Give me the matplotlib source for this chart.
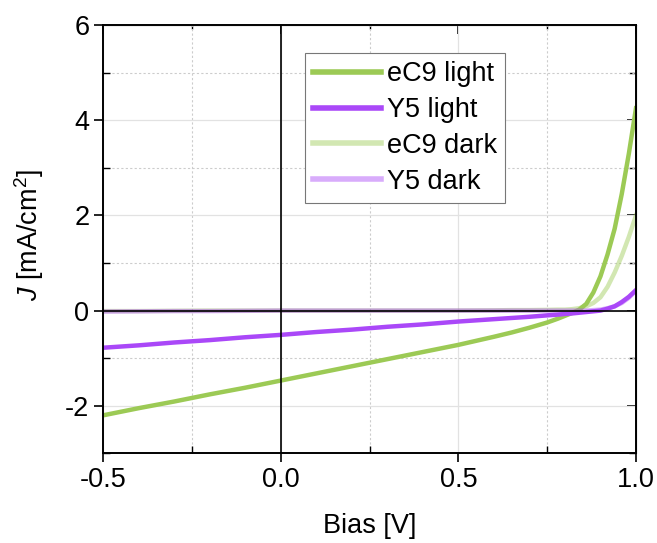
import matplotlib
matplotlib.use("Agg")
import matplotlib.pyplot as plt
from matplotlib.ticker import MultipleLocator, FormatStrFormatter, FuncFormatter

plt.rcParams["font.family"] = ["Liberation Sans", "DejaVu Sans"]
plt.rcParams["mathtext.fontset"] = "custom"
plt.rcParams["mathtext.rm"] = "Liberation Sans"
plt.rcParams["mathtext.it"] = "Liberation Sans:italic"

# bias voltage [V]
bias = [-0.5, -0.4, -0.3, -0.2, -0.1, 0.0, 0.1, 0.2, 0.3, 0.4, 0.5, 0.6, 0.65,
        0.7, 0.75, 0.78, 0.8, 0.82, 0.84, 0.86, 0.88, 0.9, 0.92, 0.94, 0.96,
        0.98, 1.0]

# current density [mA/cm2]
ec9_light = [-2.20, -2.05, -1.91, -1.76, -1.62, -1.47, -1.32, -1.17, -1.02,
             -0.87, -0.72, -0.55, -0.46, -0.36, -0.25, -0.17, -0.11, -0.05,
             0.02, 0.14, 0.38, 0.72, 1.18, 1.72, 2.45, 3.30, 4.25]
y5_light = [-0.78, -0.73, -0.67, -0.62, -0.56, -0.51, -0.45, -0.40, -0.34,
            -0.29, -0.23, -0.18, -0.155, -0.13, -0.10, -0.085, -0.07, -0.06,
            -0.045, -0.03, -0.015, 0.0, 0.04, 0.09, 0.18, 0.29, 0.43]
ec9_dark = [-0.01, -0.01, -0.005, 0.0, 0.0, 0.0, 0.0, 0.0, 0.0, 0.0, 0.0,
            0.005, 0.01, 0.01, 0.015, 0.02, 0.02, 0.03, 0.05, 0.09, 0.16, 0.28,
            0.50, 0.80, 1.15, 1.55, 2.00]
y5_dark = [-0.02, -0.015, -0.01, -0.01, -0.005, 0.0, 0.0, 0.0, 0.0, 0.0, 0.0,
           0.0, 0.0, 0.0, 0.0, 0.0, 0.0, 0.0, 0.0, 0.0, 0.01, 0.02, 0.05, 0.09,
           0.16, 0.27, 0.42]

green = "#9cca55"
purple = "#aa48f8"

fig = plt.figure(figsize=(6.57, 5.43), dpi=100)
ax = fig.add_axes([0.157, 0.165, 0.811, 0.789])

ax.plot(bias, ec9_light, color=green, lw=3.2, label="eC9 light", zorder=2)
ax.plot(bias, y5_light, color=purple, lw=3.2, label="Y5 light", zorder=2)
ax.plot(bias, ec9_dark, color=green, lw=3.2, alpha=0.45, label="eC9 dark", zorder=2)
ax.plot(bias, y5_dark, color=purple, lw=3.2, alpha=0.45, label="Y5 dark", zorder=2)

ax.axhline(0, color="black", lw=1.2, zorder=3)
ax.axvline(0, color="black", lw=1.2, zorder=3)

ax.set_xlim(-0.5, 1.0)
ax.set_ylim(-3, 6)
ax.xaxis.set_major_locator(MultipleLocator(0.5))
ax.xaxis.set_minor_locator(MultipleLocator(0.25))
ax.yaxis.set_major_locator(MultipleLocator(2))
ax.yaxis.set_minor_locator(MultipleLocator(1))
ax.xaxis.set_major_formatter(FormatStrFormatter("%.1f"))
ax.yaxis.set_major_formatter(FuncFormatter(lambda v, p: f"{v:.0f}"))

ax.grid(which="major", color="#e2e2e2", lw=0.9, ls="-", zorder=0)
ax.grid(which="minor", color="#cccccc", lw=0.8, ls=(0, (2, 2)), zorder=0)
ax.set_axisbelow(True)

ax.tick_params(which="major", direction="out", length=6.5, width=1.2,
               labelsize=19.5, pad=3.5)
ax.tick_params(which="minor", direction="in", length=5, width=1.0)
for s in ax.spines.values():
    s.set_linewidth(1.4)

# inward ticks on top and right
top = ax.secondary_xaxis("top")
top.xaxis.set_major_locator(MultipleLocator(0.5))
top.xaxis.set_minor_locator(MultipleLocator(0.25))
top.tick_params(which="major", direction="in", length=6.5, width=1.2, labeltop=False)
top.tick_params(which="minor", direction="in", length=3, width=1.0)
right = ax.secondary_yaxis("right")
right.yaxis.set_major_locator(MultipleLocator(2))
right.yaxis.set_minor_locator(MultipleLocator(1))
right.tick_params(which="major", direction="in", length=6.5, width=1.2, labelright=False)
right.tick_params(which="minor", direction="in", length=5, width=1.0)

ax.set_xlabel("Bias [V]", fontsize=19.5)
ax.set_ylabel(r"$J$ [mA/cm$^2$]", fontsize=19.5)
ax.xaxis.set_label_coords(0.5, -0.14)
ax.yaxis.set_label_coords(-0.108, 0.51)

leg = ax.legend(loc="upper left", bbox_to_anchor=(0.379, 0.934), borderaxespad=0,
                fontsize=19.5, handlelength=2.5, handletextpad=0.22,
                labelspacing=0.36, borderpad=0.3, fancybox=False,
                edgecolor="#777777", framealpha=1)
leg.get_frame().set_linewidth(0.8)
for h in leg.get_lines():
    h.set_linewidth(4)

fig.savefig("out.png", dpi=100)
